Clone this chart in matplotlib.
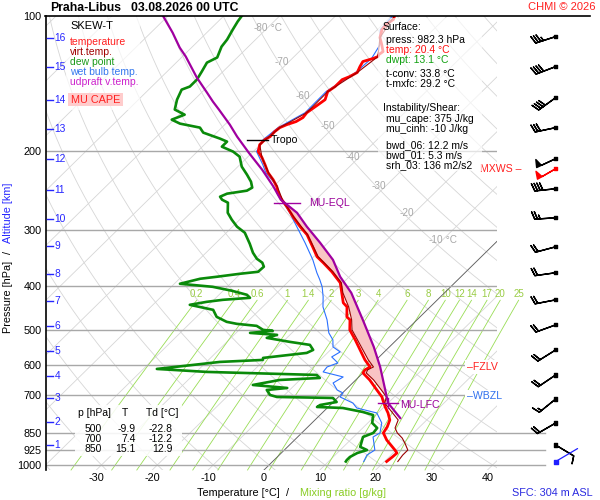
import numpy as np
import matplotlib
matplotlib.use("Agg")
import matplotlib.pyplot as plt
from matplotlib.patches import Rectangle
from matplotlib.lines import Line2D
from matplotlib.ticker import NullLocator, FixedLocator

plt.rcParams['font.family'] = ['Liberation Sans', 'DejaVu Sans']

# ---------------- data ----------------
temp_p = [100, 102, 104.7, 107.5, 112, 116.1, 120.3, 122.1, 123.4, 124.6, 126.6, 129.9, 133.9, 136.7,
          138.9, 143.9, 147.7, 153.9, 158.7, 164.5, 168.7, 172.2, 174.9, 177.6, 181.3, 186.0, 188.9,
          193.8, 200.8, 207.2, 214.7, 223.7, 231.9, 240.2, 248.0, 256.9, 266.4, 280.3, 295.0, 307.4,
          327.0, 344.1, 354.8, 371.7, 393.2, 413.9, 435.7, 444.8, 468.2, 475.4, 500.5, 526.8, 554.6,
          583.8, 605.2, 614.5, 624.0, 646.9, 680.9, 705.8, 716.8, 742.9, 766.1, 794.2, 822.9, 848.6,
          880.0, 926.3, 940.6, 959.8, 982.3]
temp_t = [-59.5, -59.0, -59.4, -59.2, -58.1, -56.5, -55.0, -55.2, -55.0, -55.5, -56.8, -56.4, -55.8,
          -56.4, -57.2, -57.2, -57.6, -56.6, -57.0, -57.5, -57.3, -57.8, -58.9, -59.6, -59.8, -59.7,
          -60.1, -60.1, -59.1, -57.3, -55.5, -53.5, -51.3, -49.4, -48.1, -46.1, -43.9, -41.0, -37.9,
          -35.2, -32.0, -29.4, -27.2, -24.0, -20.5, -18.4, -16.3, -14.9, -13.1, -12.0, -10.2, -7.4,
          -4.7, -2.0, 0.2, -0.2, 0.0, 2.5, 5.6, 7.8, 8.5, 10.2, 11.8, 13.4, 14.2, 14.6, 16.5, 19.8,
          20.7, 20.6, 20.4]

dew_p = [100, 103.1, 107.5, 113.1, 117.3, 124.0, 127.3, 133.2, 138.9, 143.9, 146.2, 153.9, 161.9,
         166.2, 170.5, 174.0, 177.6, 182.2, 187.9, 190.8, 195.8, 200.8, 206.1, 216.9, 226.0, 234.3,
         241.5, 245.3, 249.1, 253.0, 256.9, 260.9, 274.7, 284.7, 295.0, 304.3, 322.0, 337.1, 347.7,
         354.8, 362.1, 371.7, 375.5, 381.3, 385.2, 395.2, 401.4, 409.7, 418.2, 424.7, 429.1, 433.5,
         440.2, 451.7, 468.2, 480.3, 485.3, 490.3, 500.5, 503.1, 508.3, 513.5, 521.4, 532.3, 540.5,
         554.6, 563.2, 577.8, 583.8, 589.8, 611.4, 620.8, 630.5, 640.3, 646.9, 663.7, 674.0, 680.9,
         698.6, 705.8, 709.4, 724.2, 735.4, 742.9, 746.8, 762.2, 774.1, 806.4, 827.4, 848.6, 866.4,
         911.3, 926.3, 940.6, 959.8, 975.0, 982.3]
dew_t = [-86.8, -86.5, -85.9, -85.1, -84.8, -83.6, -84.5, -83.8, -83.2, -83.2, -84.1, -83.1, -81.7,
         -79.0, -80.4, -78.2, -73.9, -72.4, -68.3, -66.5, -66.5, -63.6, -61.5, -59.3, -56.9, -54.9,
         -53.6, -54.0, -57.0, -57.7, -56.8, -55.2, -53.4, -51.4, -49.2, -46.7, -43.8, -41.6, -39.8,
         -38.1, -37.1, -37.2, -40.1, -43.7, -46.3, -49.0, -42.6, -38.4, -35.0, -33.9, -38.4, -40.9,
         -43.4, -38.3, -36.4, -33.7, -31.5, -27.6, -25.7, -23.8, -27.5, -22.3, -23.6, -18.7, -14.6,
         -13.1, -13.7, -20.6, -20.3, -27.6, -37.6, -28.1, -7.9, -6.8, -13.6, -17.5, -10.8, -14.1,
         -12.6, -11.0, -0.8, 0.6, -1.8, -2.0, 2.8, 7.1, 9.5, 10.8, 12.6, 12.8, 11.7, 13.0, 14.8,
         13.6, 13.0, 13.0, 13.1]

wb_p = [100, 107.5, 116.1, 124.6, 133.9, 147.7, 164.5, 177.6, 188.9, 200.8, 214.7, 223.7, 237.9,
        260.9, 274.7, 295.0, 320.3, 349.5, 373.6, 387.2, 401.4, 422.5, 444.8, 475.4, 508.3, 526.8,
        546.1, 560.3, 574.9, 592.9, 605.2, 620.8, 637.0, 657.0, 680.9, 691.5, 705.8, 728.1, 746.8,
        766.1, 806.4, 848.6, 866.4, 926.3, 950.4, 982.3]
wb_t = [-59.8, -59.5, -56.8, -55.8, -56.1, -57.9, -57.8, -59.9, -60.4, -59.4, -55.9, -53.9, -49.9,
        -45.3, -42.3, -38.5, -34.1, -29.6, -26.5, -24.7, -23.0, -21.0, -19.2, -16.1, -13.4, -11.4,
        -10.1, -7.9, -8.5, -6.3, -7.5, -7.3, -2.8, -3.5, -1.5, 0.1, 0.3, 3.7, 5.3, 9.8, 12.5, 14.0,
        13.5, 16.2, 15.7, 16.3]

tv_p = [100, 112, 123.4, 133.9, 147.7, 164.5, 177.6, 193.8, 207.2, 223.7, 240.2, 256.9, 280.3, 307.4,
        344.1, 371.7, 393.2, 413.9, 444.8, 475.4, 500.5, 526.8, 554.6, 583.8, 605.2, 614.5, 624.0,
        646.9, 680.9, 705.8, 728.1, 762.2, 794.2, 827.4, 848.6, 871.0, 893.7, 926.3, 950.4, 982.3]
tv_t = [-59.5, -58.1, -55.0, -55.8, -57.6, -57.5, -59.6, -60.1, -57.3, -53.4, -49.3, -46.0, -40.9,
        -35.1, -29.2, -23.8, -20.3, -18.2, -14.6, -11.7, -9.8, -7.0, -4.2, -1.4, 0.8, 0.3, 0.6, 3.2,
        6.4, 8.6, 9.4, 12.3, 14.9, 15.8, 17.1, 18.9, 20.3, 22.1, 22.1, 22.4]

par_p = [100, 109.2, 117.9, 123.4, 137.4, 148.5, 155.5, 161.9, 174.9, 186.0, 201.9, 220.3, 240.2,
         256.9, 274.7, 295.0, 320.3, 349.5, 381.3, 413.9, 475.4, 546.1, 605.2, 680.9, 728.1, 786.2]
par_t = [-101.0, -96.1, -92.1, -89.4, -83.6, -79.0, -76.3, -73.8, -69.1, -65.6, -60.6, -55.1, -50.0,
         -46.3, -41.0, -36.7, -31.4, -26.0, -21.6, -16.7, -9.7, -2.8, 2.0, 7.1, 10.0, 14.9]

wind_p = [111.4, 129.9, 152.3, 177.6, 208.2, 219.2, 242.9, 281.8, 327.0, 373.5, 429.1, 487.8, 554.6,
          630.5, 713.1, 806.5, 902.9]
wind_dir = [252, 249, 234, 258, 245, 240, 264, 266, 255, 262, 259, 250, 238, 236, 231, 240, 121]
wind_spd = [35, 40, 40, 30, 50, 50, 40, 25, 20, 20, 20, 20, 20, 20, 15, 20, 10]
mxws_index = 5
motion_p = 982.3
motion_dir = 30.6      # screen angle of the blue motion vector (deg above horizontal)

alt_km = [1, 2, 3, 4, 5, 6, 7, 8, 9, 10, 11, 12, 13, 14, 15, 16]
alt_p = [902, 802, 709, 634, 557, 490, 431, 376, 325, 283, 244, 209, 178.5, 153.8, 130.5, 112]

p_levels = [100, 200, 300, 400, 500, 600, 700, 850, 925, 1000]
t_ticks = [-30, -20, -10, 0, 10, 20, 30, 40]
mix_vals = [0.2, 0.4, 0.6, 1, 1.4, 2, 3, 4, 6, 8, 10, 12, 14, 17, 20, 25]
iso_lab_t = [-80, -70, -60, -50, -40, -30, -20, -10]
iso_lab_p = [106.4, 126.6, 150.8, 176.2, 206.1, 239.1, 274.7, 315.4]

tropo_p = 188.9
eql_p = 261.0
lfc_p = 728.0
fzlv_p = 605.0
wbzl_p = 704.0

tbl_p = [500, 700, 850]
tbl_t = [-9.9, 7.4, 15.1]
tbl_td = [-22.8, -12.2, 12.9]

sfc_lines = [("press: 982.3 hPa", 'black'), ("temp: 20.4 °C", '#ff1010'), ("dwpt: 13.1 °C", '#10a010')]
conv_lines = ["t-conv: 33.8 °C", "t-mxfc: 29.2 °C"]
inst_lines = ["mu_cape: 375 J/kg", "mu_cinh: -10 J/kg"]
shear_lines = ["bwd_06: 12.2 m/s", "bwd_01: 5.3 m/s", "srh_03: 136 m2/s2"]

# ---------------- figure ----------------
W, H = 600, 500
fig = plt.figure(figsize=(W / 100, H / 100), dpi=100)
fig.patch.set_facecolor('white')


def fx(px):
    return px / W


def fy(py):
    return 1 - py / H


P_TOP, P_BOT = 100.0, 1026.0
SKEW = 35.6
XL, XR = -39.1, 41.7
AX_L, AX_R, AX_T, AX_B = 45.5, 497.0, 15.5, 470.0
ax = fig.add_axes([fx(AX_L), fy(AX_B), (AX_R - AX_L) / W, (AX_B - AX_T) / H])
ax.set_yscale('log')
ax.set_ylim(P_BOT, P_TOP)
ax.set_xlim(XL, XR)
ax.set_facecolor('white')


def sk(t, p):
    return np.asarray(t, float) + SKEW * np.log(P_BOT / np.asarray(p, float))


def axfx(px):
    return (px - AX_L) / (AX_R - AX_L)


RED = '#ff0000'
DRED = '#990000'
GREEN = '#0a8a0a'
WBLUE = '#2a70ff'
MAG = '#a000a0'
BLUE = '#2626ff'
MIXC = '#99dd55'
GRID = '#d6d6d6'

pp = np.geomspace(P_BOT, P_TOP, 200)
for t0 in range(-170, 50, 10):
    ax.plot(sk(t0, pp), pp, color=GRID, lw=0.6, zorder=1)
for th in range(-40, 240, 10):
    tt = (th + 273.15) * (pp / 1000.0) ** 0.2857 - 273.15
    ax.plot(sk(tt, pp), pp, color=GRID, lw=0.6, zorder=1)
ax.plot(sk(0, pp), pp, color='#606060', lw=0.6, zorder=1.5)

# mixing ratio lines
pm = np.geomspace(P_BOT, 430, 60)
for w in mix_vals:
    e = w * pm / (622.0 + w)
    a = np.log(e / 6.112)
    td = 243.5 * a / (17.67 - a)
    ax.plot(sk(td, pm), pm, color=MIXC, lw=0.6, zorder=1.2, clip_on=False)
    ax.text(sk(td[-1], 430), 416, f"{w:g}", color='#99cc44', fontsize=7,
            ha='center', va='center', zorder=1.3, clip_on=False)

# isotherm labels
for t0, p0 in zip(iso_lab_t, iso_lab_p):
    ax.text(sk(t0, p0), p0, f"{t0}", color='#a8a8a8', fontsize=7.2, ha='right', va='center', zorder=1.3)
    if t0 in (-80, -10):
        ax.text(sk(t0, p0), p0, " °C", color='#a8a8a8', fontsize=7.2, ha='left', va='center', zorder=1.3)

# isobars
for p in p_levels[1:]:
    ax.plot([XL, XR], [p, p], color='#a8a8a8', lw=1.0, zorder=1.6)

# CAPE area
pg = np.geomspace(eql_p, lfc_p, 300)
tvg = np.interp(np.log(pg), np.log(tv_p), tv_t)
tpg = np.interp(np.log(pg), np.log(par_p), par_t)
ax.fill_betweenx(pg, sk(tvg, pg), sk(tpg, pg), where=tpg >= tvg, color='#f9c4c4', lw=0, zorder=2)

# profiles
ax.plot(sk(wb_t, wb_p), wb_p, color=WBLUE, lw=0.8, zorder=3)
ax.plot(sk(dew_t, dew_p), dew_p, color=GREEN, lw=1.9, zorder=4)
ax.plot(sk(temp_t, temp_p), temp_p, color=RED, lw=2.0, zorder=5)
ax.plot(sk(tv_t, tv_p), tv_p, color=DRED, lw=0.8, zorder=5.5)
ax.plot(sk(par_t, par_p), par_p, color=MAG, lw=1.6, zorder=6)

# markers: tropopause, EQL, LFC
xt = sk(np.interp(np.log(tropo_p), np.log(temp_p), temp_t), tropo_p)
ax.plot([xt - 3.2, xt + 0.6], [tropo_p, tropo_p], color='black', lw=1.0, zorder=7)
ax.text(xt + 1.0, tropo_p, "Tropo", fontsize=7.6, ha='left', va='center', zorder=7)

xe = sk(np.interp(np.log(eql_p), np.log(par_p), par_t), eql_p)
ax.plot([xe - 1.9, xe + 2.8], [eql_p, eql_p], color=MAG, lw=1.0, zorder=7)
ax.text(xe + 4.4, eql_p, "MU-EQL", color='#990099', fontsize=7.6, ha='left', va='center', zorder=7)

xl = sk(np.interp(np.log(lfc_p), np.log(par_p), par_t), lfc_p)
ax.plot([xl - 1.8, xl + 1.8], [lfc_p, lfc_p], color=MAG, lw=1.0, zorder=7)
ax.plot([xl, xl], [lfc_p * 0.975, lfc_p * 1.026], color=MAG, lw=1.0, zorder=7)
ax.text(xl + 2.2, lfc_p * 1.012, "MU-LFC", color='#990099', fontsize=7.6, ha='left', va='center', zorder=7)

trans = ax.get_yaxis_transform()
ax.text(axfx(467), fzlv_p, "–FZLV", transform=trans, color='#ff2020', fontsize=7.6, ha='left',
        va='center', zorder=8, clip_on=False,
        bbox=dict(facecolor='white', edgecolor='none', pad=1.2))
ax.text(axfx(467), wbzl_p, "–WBZL", transform=trans, color='#3070ee', fontsize=7.6, ha='left',
        va='center', zorder=8, clip_on=False,
        bbox=dict(facecolor='white', edgecolor='none', pad=1.2))

# axes decorations
for s in ['top', 'right', 'bottom']:
    ax.spines[s].set_visible(False)
ax.spines['left'].set_linewidth(1.2)
ax.yaxis.set_major_locator(FixedLocator(p_levels))
ax.yaxis.set_minor_locator(NullLocator())
ax.set_yticklabels([str(p) for p in p_levels])
ax.tick_params(axis='y', length=0, pad=3, labelsize=7.8)
ax.set_xticks(t_ticks)
ax.set_xticklabels([str(t) for t in t_ticks])
ax.tick_params(axis='x', length=0, pad=2.5, labelsize=7.8)

# altitude scale
for km, p in zip(alt_km, alt_p):
    ax.plot([axfx(47), axfx(53)], [p, p], transform=trans, color=BLUE, lw=1.0, clip_on=False, zorder=8)
    ax.text(axfx(54.5), p, str(km), transform=trans, color=BLUE, fontsize=7.4,
            ha='left', va='center', zorder=8)

# wind column
axw = fig.add_axes([fx(AX_R), fy(AX_B), (W - AX_R) / W, (AX_B - AX_T) / H])
axw.set_yscale('log')
axw.set_ylim(P_BOT, P_TOP)
axw.set_xlim(AX_R, W)
axw.axis('off')
for p in [850, 925, 1000]:
    axw.plot([AX_R, 545], [p, p], color='#a8a8a8', lw=1.0, zorder=1)
d = np.radians(wind_dir)
spd = np.array(wind_spd, float)
u = -spd * np.sin(d)
v = -spd * np.cos(d)
cols = ['black'] * len(wind_p)
cols[mxws_index] = '#ff0000'
XB = 555.7
axw.barbs(np.full(len(wind_p), XB), wind_p, u, v, length=5.5, pivot='tip',
          barbcolor=cols, flagcolor=cols, linewidth=1.0,
          sizes=dict(spacing=0.13, height=0.36, width=0.25), zorder=3)
axw.scatter(np.full(len(wind_p), XB), wind_p, marker='s', s=5, c=cols, zorder=4)
axw.text(521, wind_p[mxws_index], "MXWS –", color='#ff2020', fontsize=7.6, ha='right', va='center')
mlen = 18.3
axw.annotate('', xy=(XB, motion_p),
             xytext=(mlen * np.cos(np.radians(motion_dir)), mlen * np.sin(np.radians(motion_dir))),
             textcoords='offset points',
             arrowprops=dict(arrowstyle='-', color='#2020ff', lw=0.9, shrinkA=0, shrinkB=0))
axw.scatter([XB], [motion_p], marker='s', s=5, c='#2020ff', zorder=4)

# top line
fig.add_artist(Line2D([fx(45), fx(590)], [fy(15.5), fy(15.5)], transform=fig.transFigure,
                      color='black', lw=1.2))

# semi transparent boxes
def box(x0, y0, x1, y1, color='white', alpha=0.7):
    fig.add_artist(Rectangle((fx(x0), fy(y1)), (x1 - x0) / W, (y1 - y0) / H, transform=fig.transFigure,
                             facecolor=color, edgecolor='none', alpha=alpha, zorder=1))

box(66, 17, 140, 110)
box(378, 18, 482, 171, alpha=0.68)
box(75, 405, 182, 456, alpha=0.88)
box(68, 93, 123, 106, color='#ffcccc', alpha=1.0)

def ft(px, py, s, **kw):
    kw.setdefault('fontsize', 7.5)
    kw.setdefault('va', 'center')
    fig.text(fx(px), fy(py), s, zorder=3, **kw)

# title & credits
ft(50, 8, "Praha-Libus", fontsize=8.8, fontweight='bold')
ft(131, 8, "03.08.2026 00 UTC", fontsize=8.8, fontweight='bold')
ft(596, 7, "CHMI © 2026", color='#ff2020', fontsize=8, ha='right')

# legend
ft(70, 26, "SKEW-T", fontsize=8)
ft(70, 42, "temperature", color='#ff2020')
ft(70, 52, "virt.temp.", color='#a00000')
ft(70, 62, "dew point", color='#1a9a1a')
ft(70, 72, "wet bulb temp.", color='#3377ee')
ft(70, 82, "udpraft v.temp.", color='#cc22cc')
ft(95.5, 100, "MU CAPE", color='#ff2020', fontsize=7.8, ha='center')

# surface / instability box
ft(383, 27.5, "Surface:")
for i, (s, c) in enumerate(sfc_lines):
    ft(386, 40 + 10 * i, s, color=c)
for i, s in enumerate(conv_lines):
    ft(386, 74 + 10 * i, s)
ft(383, 108, "Instability/Shear:")
for i, s in enumerate(inst_lines):
    ft(386, 119 + 10 * i, s)
for i, s in enumerate(shear_lines):
    ft(386, 145 + 10 * i, s)

# table
ft(78, 413, "p [hPa]")
ft(125, 413, "T", ha='center')
ft(146, 413, "Td [°C]")
for i in range(len(tbl_p)):
    yy = 429 + 10 * i
    ft(102, yy, f"{tbl_p[i]}", ha='right')
    ft(136, yy, f"{tbl_t[i]:.1f}", ha='right')
    ft(173, yy, f"{tbl_td[i]:.1f}", ha='right')

# axis titles
ft(197, 493, "Temperature [°C]", fontsize=7.8)
ft(288, 493, "/", fontsize=7.8, ha='center')
ft(300, 493, "Mixing ratio [g/kg]", fontsize=7.8, color='#88cc22')
ft(512, 493, "SFC: 304 m ASL", fontsize=7.8, color='#2a2ae0')
ft(8, 297, "Pressure [hPa]", fontsize=7.8, rotation=90, ha='center')
ft(8, 252, "/", fontsize=7.8, rotation=90, ha='center')
ft(8, 213, "Altitude [km]", fontsize=7.8, rotation=90, ha='center', color=BLUE)

fig.savefig("out.png", dpi=100)
